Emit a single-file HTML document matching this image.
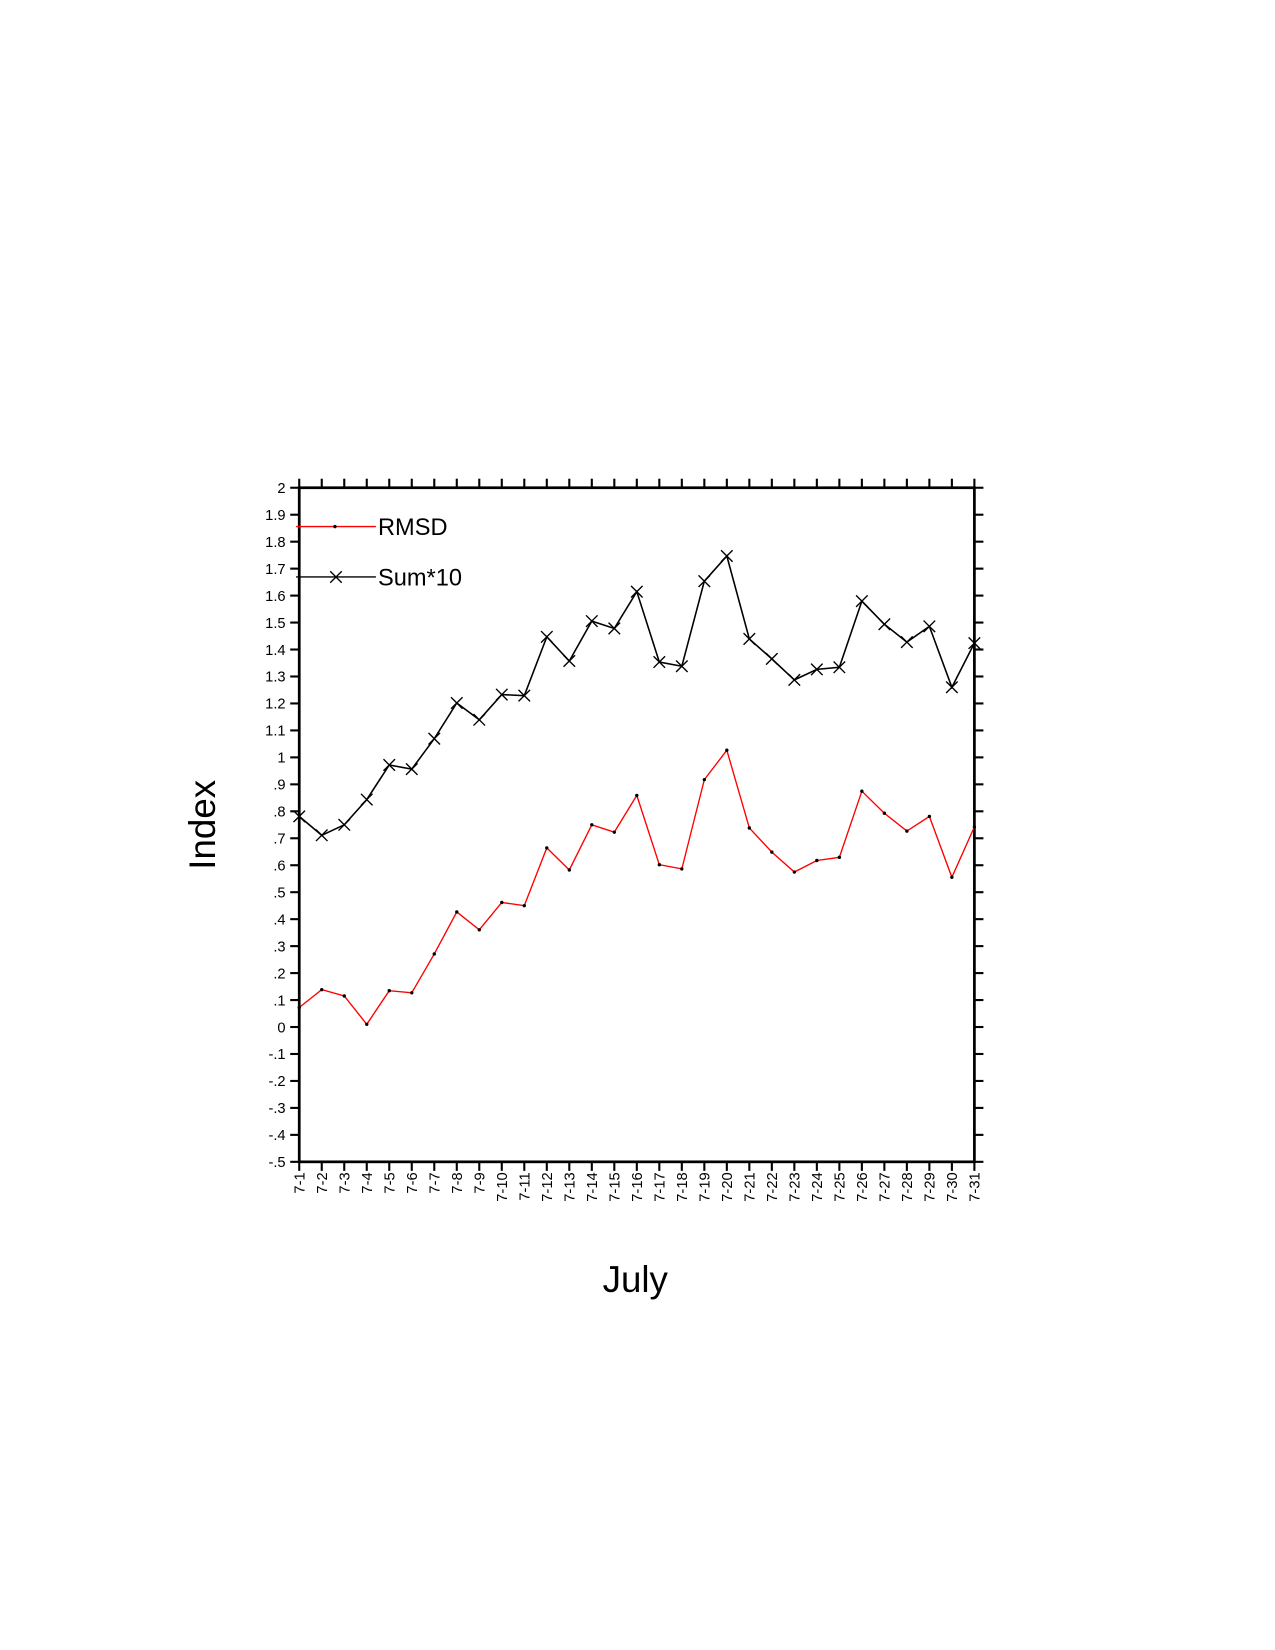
<!DOCTYPE html>
<html><head><meta charset="utf-8"><style>html,body{margin:0;padding:0;background:#fff}svg{display:block}</style></head>
<body>
<svg id="s" width="1275" height="1650" viewBox="0 0 1214.3 1571.4" xmlns="http://www.w3.org/2000/svg" font-family="Liberation Sans, sans-serif">
<g id="g" transform="translate(0,1.5)"></g>
</svg>
<script>
const NS="http://www.w3.org/2000/svg",g=document.getElementById('g');
function el(t,a,txt){const e=document.createElementNS(NS,t);for(const k in a)e.setAttribute(k,a[k]);if(txt!==undefined)e.textContent=txt;g.appendChild(e);return e;}
const L=285,R=928,T=463,B=1105,dx=(R-L)/30,dy=(B-T)/25,tk=8.6;
for(let i=0;i<=25;i++){const y=B-i*dy;el('line',{x1:L-tk,x2:L,y1:y,y2:y,stroke:'#000','stroke-width':2});el('line',{x1:R,x2:R+tk,y1:y,y2:y,stroke:'#000','stroke-width':2});
 let v=(-0.5+i*0.1);let s=Math.round(v*10)/10;let lab;if(s===0)lab='0';else if(Math.abs(s)<1){lab=(s<0?'-':'')+'.'+Math.round(Math.abs(s)*10);}else lab=String(s);
 el('text',{x:L-13,y:y+5,'font-size':14,'text-anchor':'end'},lab);}
for(let i=0;i<=30;i++){const x=L+i*dx;el('line',{x1:x,x2:x,y1:T-tk,y2:T,stroke:'#000','stroke-width':2});el('line',{x1:x,x2:x,y1:B,y2:B+tk,stroke:'#000','stroke-width':2});
 el('text',{x:0,y:0,'font-size':14,'text-anchor':'end',transform:`translate(${x+5},${B+10}) rotate(-90)`},'7-'+(i+1));}
el('rect',{x:L,y:T,width:R-L,height:B-T,fill:'none',stroke:'#000','stroke-width':2.6});
const blk=[776,794,784,760,727,731,702,668,684,660,661,605,628,590,597,562,629,633,552,528,607,626,646,636,634,571,593,610,595,653,611];
const red=[958,941,947,974,942,944,907,867,884,858,861,806,827,784,791,756,822,826,741,713,787,810,829,818,815,752,773,790,776,834,786];
el('polyline',{points:red.map((y,i)=>(L+i*dx)+','+y).join(' '),fill:'none',stroke:'#f00','stroke-width':1.3});
red.forEach((y,i)=>el('circle',{cx:L+i*dx,cy:y,r:1.6,fill:'#000'}));
el('polyline',{points:blk.map((y,i)=>(L+i*dx)+','+y).join(' '),fill:'none',stroke:'#000','stroke-width':1.5});
function X(x,y){const s=5.5;el('path',{d:`M${x-s},${y-s}L${x+s},${y+s}M${x-s},${y+s}L${x+s},${y-s}`,stroke:'#000','stroke-width':1.3});}
blk.forEach((y,i)=>X(L+i*dx,y));
el('line',{x1:282,x2:358,y1:500,y2:500,stroke:'#f00','stroke-width':1.3});el('circle',{cx:319,cy:500,r:1.6,fill:'#000'});
el('text',{x:360,y:508,'font-size':22.5},'RMSD');
el('line',{x1:282,x2:358,y1:548,y2:548,stroke:'#000','stroke-width':1.3});X(320,548);
el('text',{x:360,y:556,'font-size':22.5},'Sum*10');
el('text',{x:0,y:0,'font-size':35,'text-anchor':'middle',transform:'translate(205,784) rotate(-90)'},'Index');
el('text',{x:605,y:1229,'font-size':35,'text-anchor':'middle'},'July');
</script>
</body></html>
